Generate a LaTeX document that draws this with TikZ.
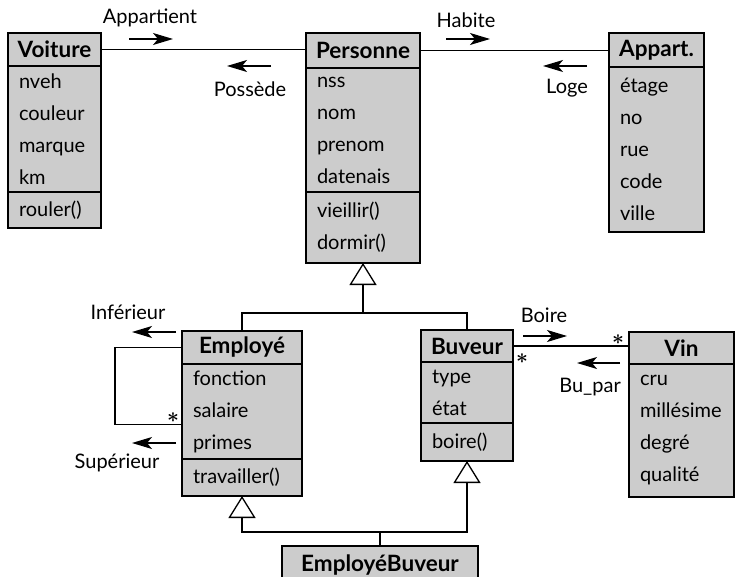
\documentclass[tikz,border=0pt]{standalone}
\usepackage{fontspec}
\setmainfont{Lato}
\tikzstyle{classname}=[rectangle,line width=1.3pt,draw=black,fill=black!20,outer sep=0pt,
font=\fontsize{22.5}{32}\selectfont\bfseries,inner sep=0pt]
\tikzstyle{members}=[rectangle,line width=1.3pt,draw=black,fill=black!20,outer sep=0pt,
font=\fontsize{20}{32}\selectfont,align=left,inner xsep=11pt,inner ysep=0pt]
\tikzstyle{lbl}=[font=\fontsize{20}{24}\selectfont,inner sep=0pt]
\tikzstyle{mult}=[font=\fontsize{20}{20}\selectfont\boldmath,inner sep=0pt]
\tikzstyle{assoc}=[line width=1.3pt]
\tikzstyle{sens}=[line width=1.3pt,->]
\tikzstyle{inherit}=[line width=1.3pt,-{Triangle[open,length=22pt,width=27pt]}]
\usetikzlibrary{positioning,arrows.meta,calc}

\begin{document}
\begin{tikzpicture}[x=1pt,y=-1pt,>={Stealth[length=20pt,width=12pt,inset=5pt]}]
            \path[fill=white,use as bounding box] (0,0) rectangle (735,577);

            % Voiture PART

            \node[classname,anchor=north west,minimum width=93pt,minimum height=33pt] (vhdr) at (8,33) {Voiture};
            \node[members,below=0pt of vhdr,text width=71pt,minimum height=126pt] (vattr) {nveh\\couleur\\marque\\km};
            \node[members,below=0pt of vattr,text width=71pt,minimum height=36pt] (vmeth) {rouler()};

            % Personne PART

            \node[classname,anchor=north west,minimum width=114pt,minimum height=35pt] (phdr) at (306,33) {Personne};
            \node[members,below=0pt of phdr,text width=92pt,minimum height=124pt] (pattr) {nss\\nom\\prenom\\datenais};
            \node[members,below=0pt of pattr,text width=92pt,minimum height=71pt] (pmeth) {vieillir()\\dormir()};

            % Appart PART

            \node[classname,anchor=north west,minimum width=95pt,minimum height=34pt] (ahdr) at (609,33) {Appart.};
            \node[members,below=0pt of ahdr,text width=73pt,minimum height=165pt] (aattr) {étage\\no\\rue\\code\\ville};

            % Employe PART

            \node[classname,anchor=north west,minimum width=120pt,minimum height=33pt] (ehdr) at (182,331) {Employé};
            \node[members,below=0pt of ehdr,text width=98pt,minimum height=95pt] (eattr) {fonction\\salaire\\primes};
            \node[members,below=0pt of eattr,text width=98pt,minimum height=37pt] (emeth) {travailler()};

            % Buveur PART

            \node[classname,anchor=north west,minimum width=92pt,minimum height=32pt] (bhdr) at (421,330) {Buveur};
            \node[members,below=0pt of bhdr,text width=70pt,minimum height=61pt] (battr) {type\\état};
            \node[members,below=0pt of battr,text width=70pt,minimum height=38pt] (bmeth) {boire()};

            % Vin PART

            \node[classname,anchor=north west,minimum width=105pt,minimum height=32pt] (nhdr) at (629,332) {Vin};
            \node[members,below=0pt of nhdr,text width=83pt,minimum height=133pt] (nattr) {cru\\millésime\\degré\\qualité};

            % EmployeBuveur PART

            \node[classname,anchor=north west,minimum width=196pt,minimum height=38pt] (ebhdr) at (282,546) {EmployéBuveur};

            % Associations

            \draw[assoc] (vhdr.east) -- (vhdr.east -| phdr.west);
            \draw[assoc] (phdr.east) -- (phdr.east -| ahdr.west);
            \draw[assoc] (bhdr.east) -- (bhdr.east -| nhdr.west);
            \coordinate (loop) at ($(eattr.west)+(-67,13)$);
            \draw[assoc] (ehdr.west) -| (loop) -- (loop -| eattr.west);

            \node[mult] (m1) at ($(loop -| eattr.west)+(-9,-7)$) {$\ast$};
            \node[mult] (m2) at ($(bhdr.east)+(9,13)$) {$\ast$};
            \node[mult] (m3) at ($(bhdr.east -| nhdr.west)+(-11,-6)$) {$\ast$};

            % Role names

            \node[lbl] (lapp) at (150,18) {Appartient};
            \node[lbl] (lpos) at (250,89) {Possède};
            \node[lbl] (lhab) at (466,20) {Habite};
            \node[lbl] (llog) at (567,88) {Loge};
            \node[lbl] (linf) at (128,312) {Inférieur};
            \node[lbl] (lsup) at (117,463) {Supérieur};
            \node[lbl] (lboi) at (544,315) {Boire};
            \node[lbl] (lbup) at (590,387) {Bu\_par};

            \draw[sens] ($(lapp)+(-21,21)$) -- ++(44,0);
            \draw[sens] ($(lpos)+(21,-23)$) -- ++(-44,0);
            \draw[sens] ($(lhab)+(-20,19)$) -- ++(44,0);
            \draw[sens] ($(llog)+(20,-22)$) -- ++(-44,0);
            \draw[sens] ($(linf)+(48,20)$) -- ++(-44,0);
            \draw[sens] ($(lsup)+(59,-20)$) -- ++(-44,0);
            \draw[sens] ($(lboi)+(-21,21)$) -- ++(44,0);
            \draw[sens] ($(lbup)+(30,-24)$) -- ++(-43,0);

            % Generalisation

            \coordinate (g1) at ($(pmeth.south)+(0,50)$);
            \draw[inherit] (g1) -- (pmeth.south);
            \draw[assoc] (ehdr.north) |- (g1) -| (bhdr.north);

            \coordinate (g2) at ($(ebhdr.north)+(0,-14)$);
            \draw[assoc] (ebhdr.north) -- (g2);
            \draw[inherit] (g2) -| (emeth.south);
            \draw[inherit] (g2) -| (bmeth.south);

        \end{tikzpicture}
\end{document}
